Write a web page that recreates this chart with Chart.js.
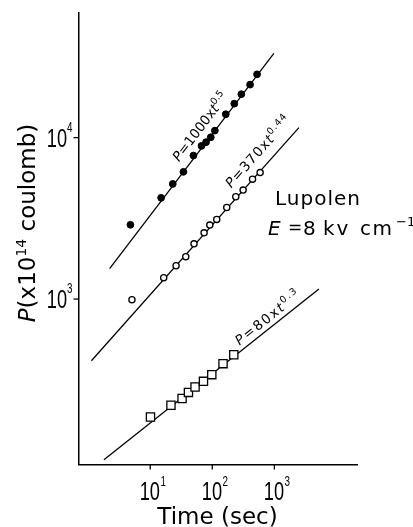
<!DOCTYPE html>
<html><head><meta charset="utf-8">
<script src="https://cdn.jsdelivr.net/npm/chart.js@4"></script>
<style>html,body{margin:0;padding:0;background:#fff}#wrap{width:413px;height:527px}</style>
</head><body><div id="wrap"><canvas id="c" width="413" height="527"></canvas></div>
<script>
// ---- data ----
const filledT = [4.80, 15.0, 23.1, 34.3, 49.7, 67.0, 79.4, 94.6, 110, 165, 226, 294, 406, 526];
const filledP = [2884, 4236, 5168, 6138, 7745, 8886, 9376, 10050, 11050, 13960, 16230, 18580, 21290, 24660];
const openT = [5.08, 16.5, 26.1, 37.4, 50.8, 73.8, 91.2, 118, 171, 239, 314, 445, 590];
const openP = [990, 1355, 1607, 1827, 2198, 2571, 2871, 3114, 3690, 4300, 4730, 5530, 6070];
const squareT = [10.1, 21.6, 32.6, 41.3, 52.8, 72.1, 98.2, 149, 222];
const squareP = [186, 220, 242, 264, 285, 309, 340, 398, 452];
const fitFilledT = [2.22, 982];
const fitFilledP = [1542, 33270];
const fitOpenT = [1.13, 2484];
const fitOpenP = [415, 11530];
const fitSquareT = [1.80, 5224];
const fitSquareP = [101, 1153];
const fitCoef = ['1000', '370', '80'];
const fitExp = ['0.5', '0.44', '0.3'];
const xTicks = [10, 100, 1000];
const xTickExp = ['1', '2', '3'];
const yTicks = [1000, 10000];
const yTickExp = ['3', '4'];
const xRange = [0.73, 21430];
const yRange = [94.4, 59160];

const pts = (T, P) => T.map((t, i) => ({x: t, y: P[i]}));

// label placement along each fit line: fraction of length, perpendicular offset, letter spacing
const labelPlace = [
  {frac: 0.468, off: 9.5, ls: 0},
  {frac: 0.71, off: 10, ls: 1.1},
  {frac: 0.645, off: 5, ls: 1.7}
];

const deco = {
  id: 'deco',
  afterDraw(chart) {
    const ctx = chart.ctx, xs = chart.scales.x, ys = chart.scales.y, ca = chart.chartArea;
    ctx.save();
    ctx.fillStyle = '#000'; ctx.strokeStyle = '#000';
    ctx.textBaseline = 'alphabetic'; ctx.textAlign = 'left';
    // tick marks
    ctx.lineWidth = 1.3;
    xTicks.forEach(v => {
      const px = xs.getPixelForValue(v);
      ctx.beginPath(); ctx.moveTo(px, ca.bottom); ctx.lineTo(px, ca.bottom + 5); ctx.stroke();
    });
    yTicks.forEach(v => {
      const py = ys.getPixelForValue(v);
      ctx.beginPath(); ctx.moveTo(ca.left - 5, py); ctx.lineTo(ca.left, py); ctx.stroke();
    });
    const sx = 0.7;
    const drawNarrow = (txt, x, y, size) => {
      ctx.save(); ctx.translate(x, y); ctx.scale(sx, 1);
      ctx.font = size + 'px "Liberation Sans", Arial, sans-serif';
      ctx.fillText(txt, 0, 0);
      const w = ctx.measureText(txt).width * sx;
      ctx.restore();
      return w;
    };
    const widthNarrow = (txt, size) => {
      ctx.save(); ctx.font = size + 'px "Liberation Sans", Arial, sans-serif';
      const w = ctx.measureText(txt).width * sx; ctx.restore(); return w;
    };
    // x tick labels
    xTicks.forEach((v, i) => {
      const px = xs.getPixelForValue(v);
      const w = drawNarrow('10', px - 10.5, ca.bottom + 35, 26);
      drawNarrow(xTickExp[i], px - 10.5 + w + 0.5, ca.bottom + 21.5, 14);
    });
    // y tick labels
    yTicks.forEach((v, i) => {
      const py = ys.getPixelForValue(v);
      const we = widthNarrow(yTickExp[i], 14);
      const w10 = widthNarrow('10', 26);
      const right = ca.left - 6;
      drawNarrow(yTickExp[i], right - we, py - 5.7, 14);
      drawNarrow('10', right - we - w10, py + 9.3, 26);
    });
    // axis titles
    ctx.font = '23px "DejaVu Sans", sans-serif';
    ctx.textAlign = 'center';
    ctx.fillText('Time (sec)', 217.5, 524);
    ctx.textAlign = 'left';
    // y title pieces
    const yParts = [
      {t: 'P', f: 'italic 23px "DejaVu Sans", sans-serif', dy: 0},
      {t: '(x10', f: '23px "DejaVu Sans", sans-serif', dy: 0},
      {t: '14', f: '14px "DejaVu Sans", sans-serif', dy: -9.5},
      {t: ' coulomb)', f: '23px "DejaVu Sans", sans-serif', dy: 0}
    ];
    let total = 0;
    yParts.forEach(p => { ctx.font = p.f; p.w = ctx.measureText(p.t).width; total += p.w; });
    ctx.save();
    ctx.translate(35, 223 + total / 2);
    ctx.rotate(-Math.PI / 2);
    let cx = 0;
    yParts.forEach(p => { ctx.font = p.f; ctx.fillText(p.t, cx, p.dy); cx += p.w; });
    ctx.restore();
    // Lupolen / field annotation
    ctx.save();
    ctx.letterSpacing = '1px';
    ctx.font = '20px "DejaVu Sans", sans-serif';
    ctx.fillText('Lupolen', 275, 205);
    ctx.restore();
    ctx.font = 'italic 20px "DejaVu Sans", sans-serif';
    ctx.fillText('E', 268, 235);
    ctx.font = '17px "DejaVu Sans", sans-serif';
    ctx.fillText('=', 288, 233);
    ctx.font = '20px "DejaVu Sans", sans-serif';
    ctx.fillText('8', 303, 235);
    ctx.save(); ctx.letterSpacing = '2px'; ctx.fillText('kv', 323, 235); ctx.restore();
    ctx.save(); ctx.letterSpacing = '1.5px'; ctx.fillText('cm', 360, 235); ctx.restore();
    ctx.font = '13px "DejaVu Sans", sans-serif';
    ctx.fillText('\u22121', 396, 226);
    // fit-line labels
    const fits = [[fitFilledT, fitFilledP], [fitOpenT, fitOpenP], [fitSquareT, fitSquareP]];
    fits.forEach((f, k) => {
      const x0 = xs.getPixelForValue(f[0][0]), y0 = ys.getPixelForValue(f[1][0]);
      const x1 = xs.getPixelForValue(f[0][1]), y1 = ys.getPixelForValue(f[1][1]);
      const L = Math.hypot(x1 - x0, y1 - y0);
      const dx = (x1 - x0) / L, dy = (y1 - y0) / L;
      const nx = dy, ny = -dx;
      const pl = labelPlace[k];
      const sxp = x0 + dx * L * pl.frac + nx * pl.off;
      const syp = y0 + dy * L * pl.frac + ny * pl.off;
      ctx.save();
      ctx.translate(sxp, syp);
      ctx.rotate(Math.atan2(dy, dx));
      ctx.letterSpacing = pl.ls + 'px';
      const parts = [
        {t: 'P', f: 'italic 13.5px "DejaVu Sans", sans-serif', dy: 0},
        {t: '=' + fitCoef[k] + 'x', f: '13.5px "DejaVu Sans", sans-serif', dy: 0},
        {t: 't', f: 'italic 13.5px "DejaVu Sans", sans-serif', dy: 0},
        {t: fitExp[k], f: '9.5px "DejaVu Sans", sans-serif', dy: -6}
      ];
      let px = 0;
      parts.forEach(p => { ctx.font = p.f; ctx.fillText(p.t, px, p.dy); px += ctx.measureText(p.t).width; });
      ctx.restore();
    });
    ctx.restore();
  }
};

const lineDs = (T, P) => ({
  data: pts(T, P), showLine: true, pointRadius: 0, borderColor: '#000',
  borderWidth: 1.3, fill: false, order: 2, clip: false
});

new Chart(document.getElementById('c'), {
  type: 'scatter',
  data: {
    datasets: [
      lineDs(fitFilledT, fitFilledP),
      lineDs(fitOpenT, fitOpenP),
      lineDs(fitSquareT, fitSquareP),
      {data: pts(filledT, filledP), pointStyle: 'circle', pointRadius: 3.4,
       backgroundColor: '#000', borderColor: '#000', borderWidth: 1, order: 1, clip: false},
      {data: pts(openT, openP), pointStyle: 'circle', pointRadius: 3.1,
       backgroundColor: '#fff', borderColor: '#000', borderWidth: 1.3, order: 1, clip: false},
      {data: pts(squareT, squareP), pointStyle: 'rect', pointRadius: 5.8,
       backgroundColor: '#fff', borderColor: '#000', borderWidth: 1.3, order: 1, clip: false}
    ]
  },
  options: {
    responsive: false, animation: false, devicePixelRatio: 1,
    layout: {padding: {top: 13, right: 56, left: 0, bottom: 0}},
    plugins: {legend: {display: false}, tooltip: {enabled: false}},
    events: [],
    scales: {
      x: {type: 'logarithmic', min: xRange[0], max: xRange[1],
          grid: {display: false}, ticks: {display: false},
          border: {display: true, color: '#000', width: 1.5},
          afterFit: s => { s.height = 62.5; }},
      y: {type: 'logarithmic', min: yRange[0], max: yRange[1],
          grid: {display: false}, ticks: {display: false},
          border: {display: true, color: '#000', width: 1.5},
          afterFit: s => { s.width = 78.5; }}
    }
  },
  plugins: [deco]
});
</script></body></html>
